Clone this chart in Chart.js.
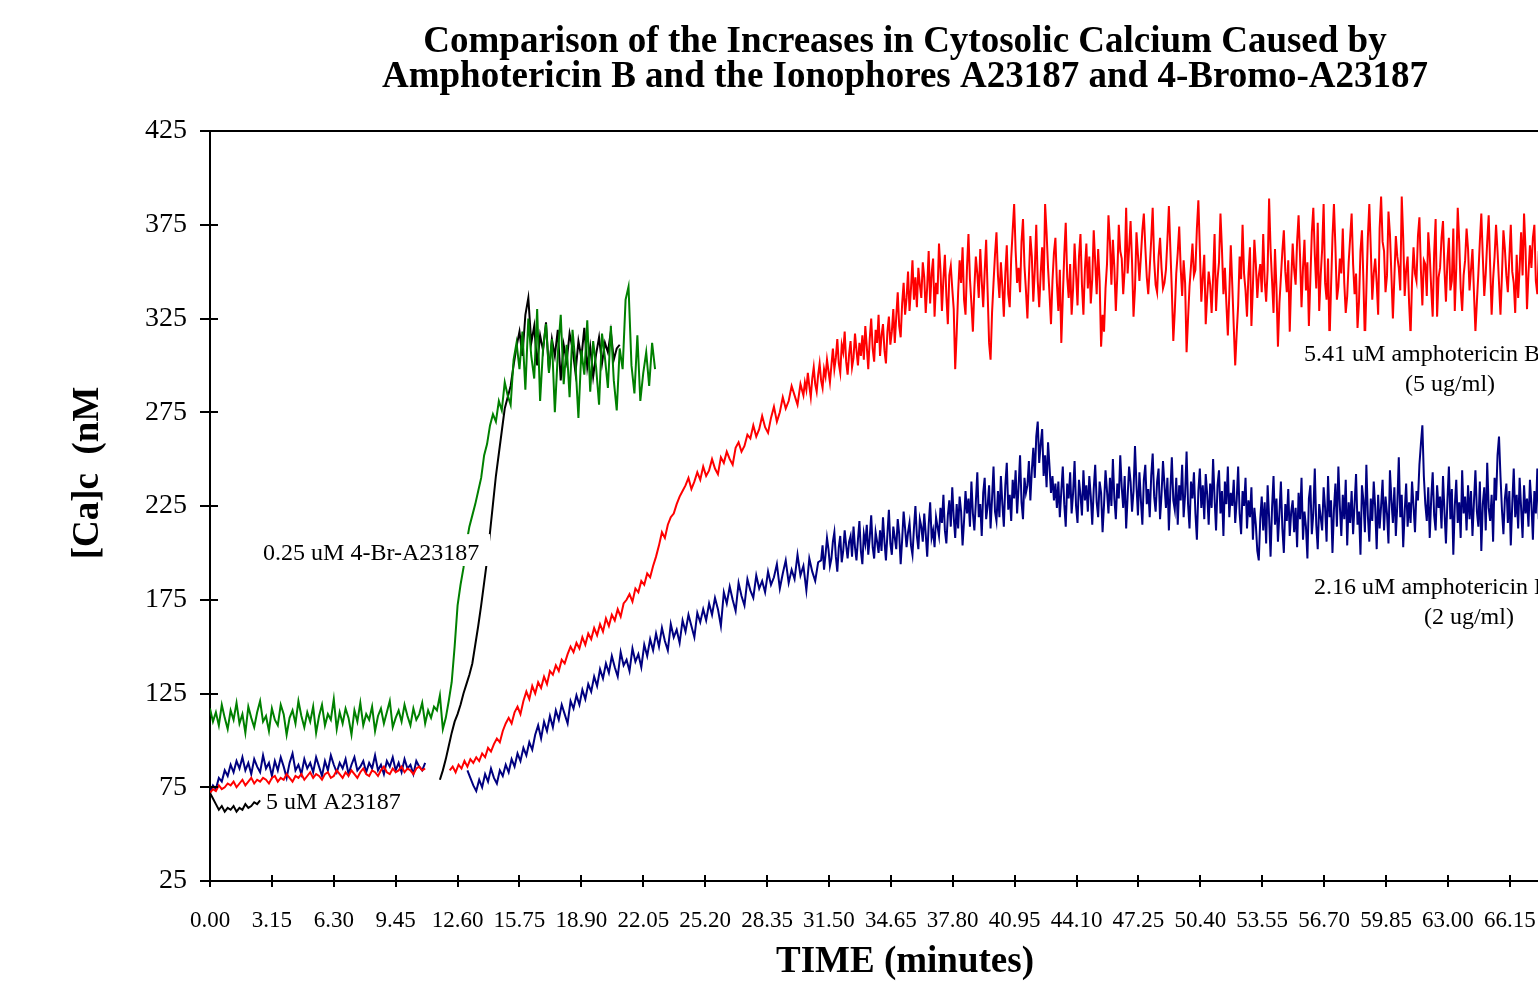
<!DOCTYPE html>
<html>
<head>
<meta charset="utf-8">
<script src="https://cdn.jsdelivr.net/npm/chart.js@4.4.1/dist/chart.umd.min.js"></script>
<style>
html,body{margin:0;padding:0;background:#fff;overflow:hidden;}
#wrap{position:absolute;left:0;top:0;width:1700px;height:982px;}
</style>
</head>
<body>
<div id="wrap"><canvas id="c" width="1700" height="982"></canvas></div>
<script>
// ---------------- DATA (time in minutes, [Ca]c in nM) ----------------
const xTickStep = 3.15;
const yTickMin = 25, yTickMax = 425, yTickStep = 50;

// 5.41 uM amphotericin B (red)
const redBaselineStart = 0, redBaselineStep = 0.15;
const redBaseline = [72,74,73,76,74,75,77,76,78,75,77,79,76,78,80,77,79,78,80,79,77,80,81,78,80,79,82,80,78,81,80,82,79,81,83,80,82,81,79,82,83,80,81,84,82,80,83,81,84,82,80,83,85,82,81,84,83,81,84,86,83,82,85,83,84,86,83,85,84,82,85,86,84,85];
const redRiseStart = 12.2, redRiseStep = 0.15;
const redRise = [
84,86,83,87,85,89,86,90,88,91,89,93,91,96,94,98,101,99,105,109,
112,109,115,118,114,121,126,122,129,125,131,128,134,130,137,135,140,137,143,141,
146,150,147,152,149,155,151,157,154,160,156,162,158,165,161,167,164,170,166,173,
175,178,174,181,179,185,183,189,187,193,198,204,211,208,215,219,221,226,230,233,
236,240,234,238,243,239,246,241,244,250,245,242,251,248,254,250,247,256,259,254,
257,263,261,268,262,266,273,267,264,272,278,270,275,283,277,281,289,284,279,290];
const redPlateauStart = 30.2, redPlateauStep = 0.075;
const redPlateau = [
284,291,287,296,289,283,293,299,290,286,295,301,292,288,298,294,303,297,291,300,
309,298,304,314,301,296,311,307,318,302,295,306,313,299,304,317,308,300,312,305,
316,303,321,310,298,314,325,309,302,319,312,327,305,316,322,308,301,318,326,311,
318,330,312,326,339,321,315,333,344,327,336,350,329,341,356,335,347,331,352,343,
336,355,347,328,342,361,333,349,357,326,344,338,365,351,329,346,359,337,322,348,
353,341,330,298,317,339,356,344,363,335,327,352,370,346,333,318,341,358,349,336,
362,345,331,350,367,339,312,303,328,344,359,371,348,336,355,342,326,349,364,338,
331,357,372,386,361,344,352,339,366,378,353,340,325,347,369,358,334,351,375,345,
331,349,363,340,386,371,352,338,322,345,360,368,344,329,351,312,336,359,376,347,
336,354,327,341,365,349,332,358,370,343,327,351,365,341,358,333,346,372,355,338,
362,345,310,327,318,341,354,380,366,343,367,352,329,348,375,361,357,338,351,384,
349,362,377,355,326,341,371,359,345,358,372,381,363,347,338,352,367,384,356,343,
339,358,368,352,341,344,351,367,385,362,340,313,329,349,360,374,352,337,356,344,
307,325,342,353,365,348,351,373,388,362,334,347,359,322,337,350,343,328,347,370,
329,346,355,381,362,338,352,333,316,338,364,343,321,300,317,332,358,346,375,349,
340,326,349,363,321,342,367,354,336,348,354,339,370,345,334,351,389,362,345,328,
362,341,310,333,347,361,372,350,339,356,318,345,365,351,343,366,380,358,331,352,
367,340,355,321,346,371,384,359,341,376,329,348,362,386,344,335,357,312,341,368,
386,363,335,342,357,349,373,344,328,337,355,368,381,354,338,349,320,334,361,372,
345,312,340,368,386,362,335,349,357,344,327,373,390,366,361,339,348,382,370,348,
325,347,369,358,352,340,390,368,337,351,358,333,316,345,363,349,345,369,379,351,
332,356,354,337,371,359,341,326,360,378,326,347,352,368,377,351,334,356,368,340,
345,373,329,352,384,366,341,329,348,356,373,362,340,351,362,339,318,334,349,366,
381,358,337,349,366,380,353,327,346,358,375,361,344,327,348,372,362,348,339,357,
375,350,344,328,359,336,352,371,348,381,362,330,349,364,352,368,375,345,338,361,
345,370,384,357,333,347,369,352,341,327,356,373,350,340,384,366,351,329,356,343];

// 2.16 uM amphotericin B (navy)
const blueBaselineStart = 0, blueBaselineStep = 0.15;
const blueBaseline = [72,76,74,80,78,84,81,87,83,89,85,91,84,88,82,90,86,83,92,85,88,81,89,84,91,86,80,88,93,84,87,82,90,85,88,83,91,86,81,89,84,92,87,83,88,85,90,82,87,91,84,86,89,83,88,85,92,84,87,82,89,86,91,84,88,83,90,85,87,82,89,86,84,88];
const blueRiseStart = 13.1, blueRiseStep = 0.15;
const blueRise = [
84,80,76,73,79,75,82,78,85,80,77,84,81,87,83,90,86,93,89,96,
92,99,95,103,108,101,110,105,113,107,116,111,119,114,109,121,117,124,119,127,
122,130,126,134,129,138,133,141,136,145,139,134,147,140,143,137,149,142,146,139,
151,145,154,148,157,150,160,153,148,162,155,159,152,164,158,167,161,155,168,163,
170,164,173,167,176,170,161,179,173,182,175,169,184,177,172,186,180,176,188,181,
185,179,190,183,187,194,181,189,196,184,191,186,199,188,193,180,197,190,185,195];
const bluePlateauStart = 31.1, bluePlateauStep = 0.075;
const bluePlateau = [
196,204,191,199,208,202,193,197,206,211,198,190,203,209,195,201,212,204,197,206,
209,198,214,203,196,207,217,201,194,210,205,215,199,208,220,203,197,211,206,200,
212,201,219,206,196,210,223,205,199,214,208,202,218,210,194,207,222,213,203,211,
216,204,199,213,225,209,202,218,214,206,221,210,198,215,227,208,212,203,219,214,
209,224,216,231,212,205,220,228,214,235,219,208,226,213,230,222,204,217,233,221,
229,214,238,221,212,227,243,219,226,209,232,240,218,225,236,213,229,246,222,217,
233,219,241,226,214,236,248,223,231,217,239,229,244,221,235,252,227,218,240,232,
236,249,228,244,256,240,262,270,248,258,266,241,252,235,259,246,232,241,228,237,
224,238,219,233,246,226,214,237,229,243,221,232,249,225,216,239,231,220,244,228,
236,222,241,230,215,234,247,227,219,238,232,211,226,244,233,221,240,225,250,229,
218,237,229,252,235,224,241,213,230,246,238,222,233,257,236,220,243,228,215,239,
247,226,234,219,241,253,230,222,238,245,218,231,249,236,224,240,212,233,251,228,
223,240,215,236,228,247,219,231,254,226,213,238,229,243,221,207,233,245,224,236,
218,242,231,215,237,224,250,229,212,236,244,221,233,209,238,226,246,219,232,225,
239,216,228,246,221,210,233,225,240,213,228,219,235,207,224,215,201,196,218,230,
212,227,205,236,219,198,224,241,215,229,206,221,238,213,200,226,217,234,209,222,
228,211,224,203,232,218,240,207,222,214,197,229,236,210,221,245,215,202,226,219,
212,235,224,206,241,219,228,200,223,237,214,246,225,209,231,218,239,204,227,216,
233,210,226,242,215,222,199,236,228,211,247,220,206,229,217,238,224,202,231,213,
225,239,212,230,221,205,244,228,216,235,209,226,251,219,231,203,222,237,214,227,
216,238,225,211,233,228,247,258,268,241,226,217,235,208,229,243,220,212,236,224,
230,213,241,222,205,228,246,218,234,199,225,239,216,227,208,244,221,230,212,236,
218,233,209,227,244,222,214,238,201,226,235,212,248,224,217,231,206,240,228,252,
262,241,223,210,229,237,216,233,204,226,245,219,231,213,240,224,208,236,221,229,
214,239,226,207,233,221,245,218,229,203,236,224,211,238,220,247,215,227,209,232,
226,213,240,222,231,208,237,219,244,225,212,233,218,228,206,239,223,215,234,221];

// 0.25 uM 4-Br-A23187 (green)
const greenRiseStart = 0, greenRiseStep = 0.15;
const greenRise = [
117,110,115,108,119,112,106,116,111,120,109,114,104,118,112,107,115,121,110,113,
105,117,111,108,119,114,103,112,116,109,121,113,107,115,110,118,104,113,119,108,
114,111,122,106,115,109,117,112,103,116,110,120,108,114,111,118,105,113,117,109,
115,121,107,112,116,110,119,113,108,117,111,114,120,109,116,112,118,
116,124,106,112,121,131,150,172,183,192,205,214,220,226,233,240,252,258,268,274,270,281,276,291,284,279,303,312];
const greenPlateauStart = 15.75, greenPlateauStep = 0.15;
const greenPlateau = [
298,318,287,325,305,293,330,281,309,322,296,314,275,306,327,290,311,283,319,301,
272,308,295,324,286,313,299,279,317,304,288,321,292,276,309,298,335,342,300,285,
316,281,296,307,289,312,298];

// 5 uM A23187 (black)
const blackBaselineStart = 0, blackBaselineStep = 0.15;
const blackBaseline = [72,69,66,63,65,62,64,63,65,62,64,63,66,64,65,67,66,68];
const blackRiseStart = 11.7, blackRiseStep = 0.15;
const blackRise = [79,84,90,97,104,110,114,119,125,130,135,141,151,161,172,184,196,211,226,241,253,265,277,283,289,300,310,
318,305,327,336,312,321,300,316,308,323,297,314,305,319,292,311,302,317,309,296,313,304,320,299,310,294,306,315,301,312,307,318,303,309,311];

const titleLines = ["Comparison of the Increases in Cytosolic Calcium Caused by",
                    "Amphotericin B and the Ionophores A23187 and 4-Bromo-A23187"];
const xTitle = "TIME (minutes)";
const yTitle = "[Ca]c  (nM";

// annotation texts anchored in data units (time, nM); box = [t0, t1, v0, v1]
const notes = [
  {box:[2.45,14.25,193,210], lines:[{t:"0.25 uM 4-Br-A23187", x:2.70, y:199.5}]},
  {box:[2.60,10.20,60,74],   lines:[{t:"5 uM A23187", x:2.85, y:66.5}]},
  {box:[55.5,80,281,318.3],  lines:[{t:"5.41 uM amphotericin B", x:55.68, y:305.5}, {t:"(5 ug/ml)", x:60.82, y:289.5}]},
  {box:[55.5,80,158,193.6],  lines:[{t:"2.16 uM amphotericin B", x:56.19, y:181.5}, {t:"(2 ug/ml)", x:61.78, y:165.5}]}
];

// ---------------- build points ----------------
function build(segments){
  const pts = [];
  segments.forEach(seg => {
    if (seg.gap) pts.push({x: seg.start - seg.step/2, y: null});
    seg.values.forEach((v, i) => pts.push({x: +(seg.start + i*seg.step).toFixed(4), y: v}));
  });
  return pts;
}

const FONT = "'Liberation Serif', 'Times New Roman', serif";

const overlay = {
  id: 'overlay',
  afterDatasetsDraw(chart){
    const {ctx, chartArea: a, scales: {x, y}} = chart;
    ctx.save();
    ctx.strokeStyle = '#000'; ctx.lineWidth = 2;
    for (let v = yTickMin; v <= yTickMax; v += yTickStep){
      const py = Math.round(y.getPixelForValue(v));
      ctx.beginPath(); ctx.moveTo(a.left, py); ctx.lineTo(a.left + 8, py); ctx.stroke();
    }
    for (let i = 0; i * xTickStep <= x.max; i++){
      const px = Math.round(x.getPixelForValue(i * xTickStep));
      ctx.beginPath(); ctx.moveTo(px, a.bottom); ctx.lineTo(px, a.bottom - 6); ctx.stroke();
    }
    ctx.beginPath(); ctx.moveTo(a.left - 1, a.top); ctx.lineTo(a.right, a.top); ctx.stroke();

    notes.forEach(n => {
      const x0 = x.getPixelForValue(n.box[0]), x1 = x.getPixelForValue(n.box[1]);
      const y0 = y.getPixelForValue(n.box[3]), y1 = y.getPixelForValue(n.box[2]);
      ctx.fillStyle = '#fff';
      ctx.fillRect(x0, y0, x1 - x0, y1 - y0);
      ctx.fillStyle = '#000';
      ctx.font = "24px " + FONT;
      ctx.textAlign = 'left'; ctx.textBaseline = 'middle';
      n.lines.forEach(l => ctx.fillText(l.t, x.getPixelForValue(l.x), y.getPixelForValue(l.y)));
    });

    const cx = (a.left + a.right) / 2;
    ctx.fillStyle = '#000';
    ctx.textAlign = 'center'; ctx.textBaseline = 'alphabetic';
    ctx.font = "bold 37px " + FONT;
    ctx.fillText(titleLines[0], cx, 52);
    ctx.fillText(titleLines[1], cx, 87);
    ctx.fillText(xTitle, cx, 972);
    ctx.save();
    ctx.translate(98, 473);
    ctx.rotate(-Math.PI / 2);
    ctx.fillText(yTitle, 0, 0);
    ctx.restore();
    ctx.restore();
  }
};

const common = {borderWidth: 2, pointRadius: 0, tension: 0, spanGaps: false, fill: false};

new Chart(document.getElementById('c'), {
  type: 'line',
  data: {
    datasets: [
      Object.assign({label: '0.25 uM 4-Br-A23187', borderColor: '#008000',
        data: build([{start: greenRiseStart, step: greenRiseStep, values: greenRise},
                     {start: greenPlateauStart, step: greenPlateauStep, values: greenPlateau}])}, common),
      Object.assign({label: '5 uM A23187', borderColor: '#000000',
        data: build([{start: blackBaselineStart, step: blackBaselineStep, values: blackBaseline},
                     {start: blackRiseStart, step: blackRiseStep, values: blackRise, gap: true}])}, common),
      Object.assign({label: '5.41 uM amphotericin B', borderColor: '#ff0000',
        data: build([{start: redBaselineStart, step: redBaselineStep, values: redBaseline},
                     {start: redRiseStart, step: redRiseStep, values: redRise, gap: true},
                     {start: redPlateauStart, step: redPlateauStep, values: redPlateau}])}, common),
      Object.assign({label: '2.16 uM amphotericin B', borderColor: '#000080',
        data: build([{start: blueBaselineStart, step: blueBaselineStep, values: blueBaseline},
                     {start: blueRiseStart, step: blueRiseStep, values: blueRise, gap: true},
                     {start: bluePlateauStart, step: bluePlateauStep, values: bluePlateau}])}, common)
    ]
  },
  options: {
    responsive: false,
    animation: false,
    devicePixelRatio: 1,
    layout: {padding: {left: 0, top: 131, right: 100, bottom: 0}},
    plugins: {legend: {display: false}, tooltip: {enabled: false}, title: {display: false}},
    scales: {
      x: {
        type: 'linear', min: 0, max: 70.74, bounds: 'data',
        ticks: {stepSize: xTickStep, includeBounds: false, autoSkip: false, maxRotation: 0,
                callback: v => Number(v).toFixed(2), color: '#000', padding: 20,
                font: {family: FONT, size: 23}},
        grid: {drawOnChartArea: false, tickLength: 6, color: '#000', lineWidth: 2},
        border: {color: '#000', width: 2},
        afterFit(s){ s.height = 101; }
      },
      y: {
        min: yTickMin, max: yTickMax,
        ticks: {stepSize: yTickStep, color: '#000', padding: 13, font: {family: FONT, size: 28}},
        grid: {drawOnChartArea: false, tickLength: 10, color: '#000', lineWidth: 2},
        border: {color: '#000', width: 2},
        afterFit(s){ s.width = 210; }
      }
    }
  },
  plugins: [overlay]
});
</script>
</body>
</html>
